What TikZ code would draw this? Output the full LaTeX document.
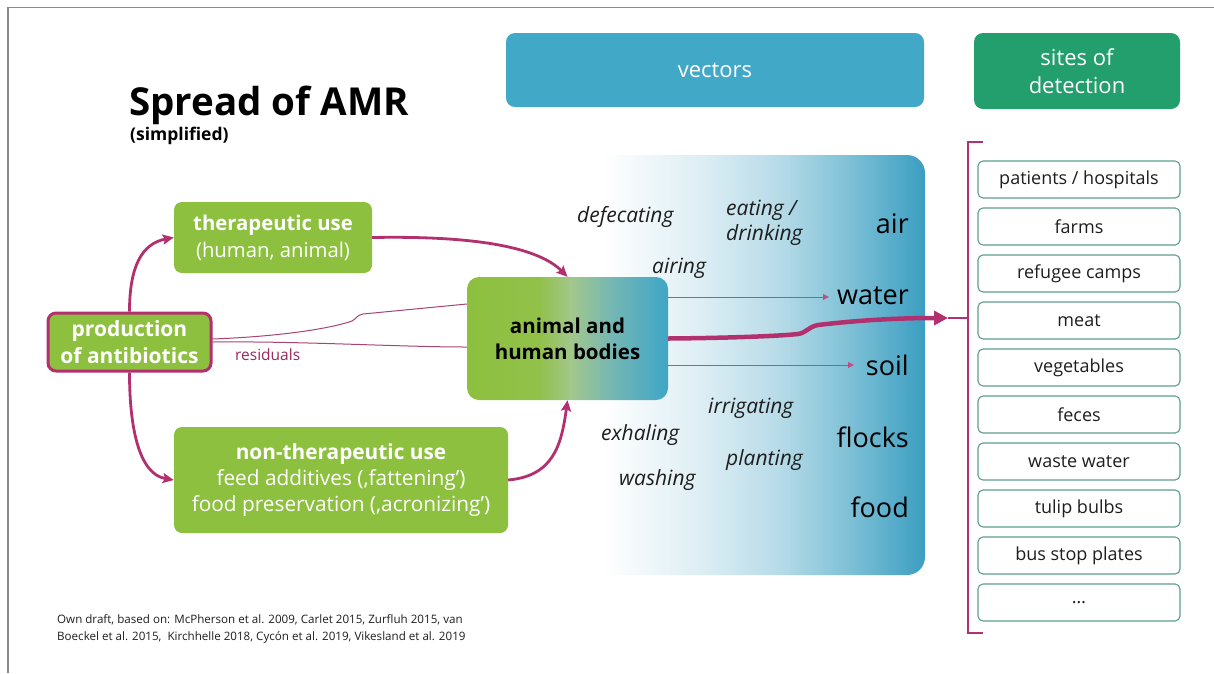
\documentclass[tikz,border=0pt]{standalone}
\usepackage{fontspec}
\setmainfont{Open Sans}
\usetikzlibrary{arrows.meta}

\definecolor{agreen}{HTML}{8DC03F}
\definecolor{amag}{HTML}{B3306F}
\definecolor{vblue}{HTML}{42A8C7}
\definecolor{sgreen}{HTML}{239E6D}
\definecolor{siteedge}{HTML}{5E9E8F}
\definecolor{textdark}{HTML}{1E1E1E}
\definecolor{framegray}{HTML}{8A8A8A}
% colours of the vectors field
\definecolor{vlite}{HTML}{DDEEF4}
\definecolor{vmid}{HTML}{B7DBE8}
\definecolor{vstrong}{HTML}{7FC1D7}
\definecolor{vdeep}{HTML}{3B9EC1}
% colours of the bodies box
\definecolor{bgreen}{HTML}{92C14A}
\definecolor{bmix}{HTML}{A2C78C}
\definecolor{bteal}{HTML}{74B7B4}
\definecolor{bblue}{HTML}{3FA6C7}

\pgfdeclarehorizontalshading{vecshade}{100bp}{color(0bp)=(white); color(25bp)=(white); color(33bp)=(white); color(46bp)=(vlite); color(56bp)=(vmid); color(65bp)=(vstrong); color(75bp)=(vdeep); color(100bp)=(vdeep)}
\pgfdeclarehorizontalshading{bodyshade}{100bp}{color(0bp)=(agreen); color(25bp)=(agreen); color(43bp)=(bgreen); color(51bp)=(bmix); color(61bp)=(bteal); color(75bp)=(bblue); color(100bp)=(bblue)}

\newcommand{\fsz}[2]{\fontsize{#1pt}{#2pt}\selectfont}

\begin{document}
\begin{tikzpicture}[x=1pt,y=-1pt,
  greenbox/.style={fill=agreen, rounded corners=8pt, text=white, align=center, inner sep=0pt},
  headbox/.style={rounded corners=9pt, text=white, align=center, inner sep=0pt, font=\fsz{22}{28}},
  sitebox/.style={draw=siteedge, line width=1.1pt, fill=white, rounded corners=5pt,
    minimum width=202pt, minimum height=37pt, inner sep=0pt, font=\fsz{18}{22}, text=textdark},
  verb/.style={font=\fsz{21}{25}\itshape, text=textdark, anchor=base west, inner sep=0pt},
  noun/.style={font=\fsz{27}{30}, text=black, anchor=base east, inner sep=0pt},
  flow/.style={draw=amag, line width=2.8pt, -{Stealth[length=11pt,width=10pt,inset=2pt]}},
  bigflow/.style={draw=amag, line width=4.5pt, -{Triangle[length=14pt,width=14pt]}},
  thinflow/.style={draw=amag!85!white, line width=1pt, -{Triangle[length=6pt,width=6pt]}},
  residual/.style={draw=amag!75!gray, line width=1pt},
  bracket/.style={draw=amag, line width=2.6pt}
]
\useasboundingbox (0,0) rectangle (1214,673);
\fill[white] (0,0) rectangle (1214,673);

% frame
\draw[framegray, line width=1.4pt] (8,673) -- (8,7.5) -- (1214,7.5);

% title
\node[anchor=base west, inner sep=0pt, font=\fsz{38.5}{40}\bfseries] (title) at (129,115) {Spread of AMR};
\node[anchor=base west, inner sep=0pt, font=\fsz{17.5}{20}\bfseries] (subtitle) at (130,140) {(simplified)};

% column heads
\node[headbox, fill=vblue, minimum width=418pt, minimum height=74pt] (vectors) at (715,70) {vectors};
\node[headbox, fill=sgreen, minimum width=206pt, minimum height=76pt] (sites) at (1077,71) {sites of\\detection};

% vectors field
\shade[shading=vecshade, rounded corners=18pt] (540,155) rectangle (925,575);

% source and use boxes
\node[greenbox, draw=amag, line width=3pt, minimum width=163pt, minimum height=58pt,
  font=\fsz{21}{27}\bfseries] (prod) at (129.5,342) {production\\of antibiotics};
\node[greenbox, minimum width=198pt, minimum height=71pt, font=\fsz{20.3}{27}] (ther) at (273,237.5)
  {\textbf{therapeutic use}\\(human, animal)};
\node[greenbox, minimum width=334pt, minimum height=106pt, font=\fsz{20.8}{26}] (nonther) at (341,480)
  {\textbf{non-therapeutic use}\\feed additives (‚fattening’)\\food preservation (‚acronizing’)};

% bodies
\node[shade, shading=bodyshade, rounded corners=12pt, minimum width=201pt, minimum height=123pt,
  inner sep=0pt, align=center, font=\fsz{20.5}{26}\bfseries, text=black] (bodies) at (567.5,338.5)
  {animal and\\human bodies};

% vectors: actions
\node[verb] (defecating) at (577,222) {defecating};
\node[verb, align=left, anchor=north west] (eating) at (726,200) {eating /\\drinking};
\node[verb] (airing) at (652,273) {airing};
\node[verb] (irrigating) at (708,413) {irrigating};
\node[verb] (exhaling) at (601,440) {exhaling};
\node[verb] (planting) at (726,465) {planting};
\node[verb] (washing) at (619,485) {washing};

% vectors: media
\node[noun] (air) at (909,233) {air};
\node[noun] (water) at (909,304) {water};
\node[noun] (soil) at (909,375) {soil};
\node[noun] (flocks) at (909,447) {flocks};
\node[noun] (food) at (909,517) {food};

% sites of detection
\foreach [count=\i] \t in {patients / hospitals, farms, refugee camps, meat, vegetables, feces,
  waste water, tulip bulbs, bus stop plates, …}
  \node[sitebox] (site\i) at (1079,{179.5+47*(\i-1)}) {\t};

% bracket round the sites
\coordinate (brtop) at (983,142);
\coordinate (brbot) at (983,633);
\coordinate (brmid) at (968,318);
\coordinate (tipc) at (948,318);
\draw[bracket] (brtop) -- (968,142) -- (968,633) -- (brbot);
\draw[amag, line width=2.6pt] (tipc) -- (brmid);

% flows
\draw[flow] (prod.north) .. controls +(0,-45) and +(-32,6) .. (ther.west);
\draw[flow] (prod.south) .. controls +(0,55) and +(-35,-6) .. (nonther.west);
\draw[flow] (ther.east) .. controls +(110,-2) and +(-28,-28) .. (bodies.north);
\draw[flow] (nonther.east) .. controls +(45,-4) and +(-6,45) .. (bodies.south);

% residuals
\draw[residual] ([yshift=3pt]prod.east) .. controls (290,336) and (335,327) .. (352,321)
  .. controls (356,319) and (357,315) .. (363,314) -- ([yshift=34.5pt]bodies.west);
\draw[residual] (prod.east) .. controls (300,341) and (400,347) .. ([yshift=-8.5pt]bodies.west);
\node[anchor=base west, inner sep=0pt, font=\fsz{15.5}{18}, text=amag!85!black] (residuals) at (235,360) {residuals};

% flows out of the bodies
\coordinate (waterend) at (829,297);
\coordinate (soilend) at (854,365);
\draw[thinflow] ([yshift=41.5pt]bodies.east) -- (waterend);
\draw[thinflow] ([yshift=-26.5pt]bodies.east) -- (soilend);
\draw[bigflow] (bodies.east) .. controls (730,338) and (780,336) .. (798,334)
  .. controls (806,333) and (808,327) .. (818,325) .. controls (860,320) and (900,318) .. (tipc);

% sources
\node[anchor=north west, inner sep=0pt, align=left, font=\fsz{11.6}{17}, text=textdark] (source) at (57,614)
  {Own draft, based on: McPherson et al. 2009, Carlet 2015, Zurfluh 2015, van\\
   Boeckel et al. 2015,\ \ Kirchhelle 2018, Cycón et al. 2019, Vikesland et al. 2019};
\end{tikzpicture}
\end{document}
